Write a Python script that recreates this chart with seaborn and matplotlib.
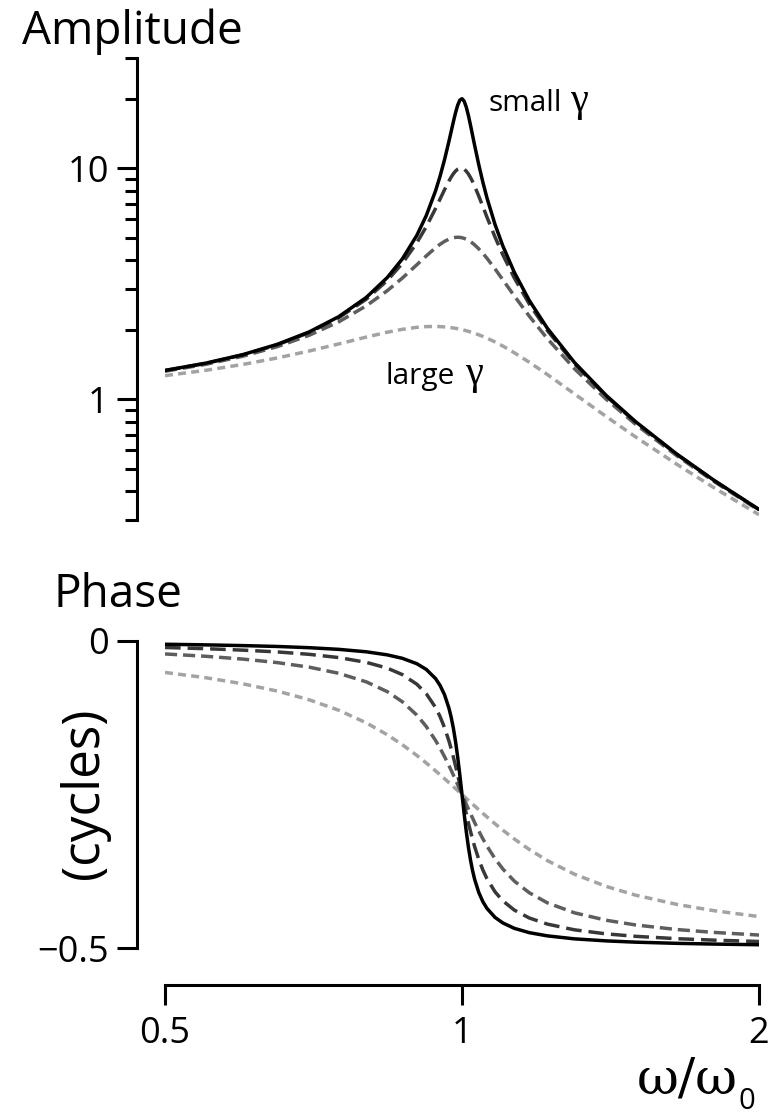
import matplotlib
matplotlib.use("Agg")
import matplotlib.pyplot as plt
import pandas as pd
import seaborn as sns
from matplotlib.ticker import FixedLocator, FixedFormatter, LogLocator, NullLocator, NullFormatter

# ---------------- data ----------------
omega = [0.5, 0.55, 0.6, 0.65, 0.7, 0.75, 0.8, 0.84, 0.87, 0.9, 0.92, 0.94, 0.95, 0.96,
         0.97, 0.975, 0.98, 0.985, 0.99, 0.995, 1.0, 1.005, 1.01, 1.015, 1.02, 1.025,
         1.03, 1.04, 1.05, 1.06, 1.08, 1.1, 1.13, 1.17, 1.22, 1.3, 1.4, 1.5, 1.65, 1.8, 2.0]

gamma_levels = ["0.05", "0.1", "0.2", "0.5"]

amp_g005 = [1.333, 1.433, 1.561, 1.729, 1.956, 2.277, 2.761, 3.363, 4.049, 5.121, 6.237,
            7.966, 9.220, 10.88, 13.08, 14.41, 15.87, 17.38, 18.74, 19.71, 20.0, 19.52,
            18.40, 16.93, 15.37, 13.88, 12.54, 10.34, 8.684, 7.436, 5.716, 4.607, 3.539,
            2.677, 2.032, 1.443, 1.039, 0.7986, 0.5799, 0.4461, 0.3332]
amp_g01 = [1.330, 1.429, 1.556, 1.721, 1.943, 2.253, 2.712, 3.266, 3.873, 4.757, 5.585,
           6.684, 7.346, 8.068, 8.804, 9.150, 9.461, 9.718, 9.903, 10.00, 10.00, 9.901,
           9.711, 9.443, 9.115, 8.747, 8.357, 7.565, 6.815, 6.141, 5.041, 4.218, 3.344,
           2.584, 1.987, 1.424, 1.031, 0.7943, 0.5779, 0.4450, 0.3326]
amp_g02 = [1.322, 1.416, 1.536, 1.689, 1.891, 2.162, 2.538, 2.950, 3.345, 3.821, 4.172,
           4.522, 4.683, 4.822, 4.931, 4.971, 5.001, 5.019, 5.025, 5.019, 5.000, 4.969,
           4.926, 4.872, 4.809, 4.736, 4.655, 4.476, 4.279, 4.075, 3.668, 3.288, 2.798,
           2.289, 1.832, 1.356, 1.000, 0.7779, 0.5702, 0.4408, 0.3304]
amp_g05 = [1.265, 1.334, 1.415, 1.509, 1.617, 1.735, 1.858, 1.950, 2.007, 2.047, 2.062,
           2.065, 2.062, 2.056, 2.047, 2.041, 2.034, 2.027, 2.019, 2.010, 2.000, 1.990,
           1.979, 1.967, 1.955, 1.942, 1.928, 1.900, 1.870, 1.838, 1.770, 1.699, 1.589,
           1.446, 1.280, 1.055, 0.8417, 0.6860, 0.5236, 0.4142, 0.3162]

phase_g005 = [-0.0053, -0.0063, -0.0075, -0.0089, -0.0109, -0.0136, -0.0176, -0.0226,
              -0.0282, -0.0370, -0.0463, -0.0611, -0.0722, -0.0874, -0.1094, -0.1240,
              -0.1418, -0.1635, -0.1892, -0.2185, -0.2500, -0.2813, -0.3103, -0.3355,
              -0.3566, -0.3740, -0.3883, -0.4097, -0.4247, -0.4355, -0.4501, -0.4592,
              -0.4680, -0.4750, -0.4802, -0.4851, -0.4884, -0.4905, -0.4924, -0.4936, -0.4947]
phase_g01 = [-0.0106, -0.0125, -0.0149, -0.0178, -0.0217, -0.0270, -0.0348, -0.0442,
             -0.0547, -0.0704, -0.0859, -0.1081, -0.1229, -0.1410, -0.1629, -0.1754,
             -0.1889, -0.2033, -0.2184, -0.2341, -0.2500, -0.2658, -0.2813, -0.2961,
             -0.3100, -0.3230, -0.3350, -0.3559, -0.3731, -0.3872, -0.4084, -0.4232,
             -0.4383, -0.4511, -0.4610, -0.4704, -0.4770, -0.4810, -0.4848, -0.4872, -0.4894]
phase_g02 = [-0.0211, -0.0249, -0.0295, -0.0352, -0.0426, -0.0526, -0.0666, -0.0825,
             -0.0989, -0.1207, -0.1393, -0.1618, -0.1745, -0.1883, -0.2029, -0.2105,
             -0.2183, -0.2261, -0.2341, -0.2420, -0.2500, -0.2579, -0.2658, -0.2735,
             -0.2811, -0.2885, -0.2958, -0.3095, -0.3223, -0.3340, -0.3545, -0.3713,
             -0.3911, -0.4100, -0.4263, -0.4427, -0.4548, -0.4625, -0.4699, -0.4746, -0.4789]
phase_g05 = [-0.0512, -0.0598, -0.0698, -0.0816, -0.0957, -0.1128, -0.1334, -0.1527,
             -0.1689, -0.1864, -0.1987, -0.2114, -0.2178, -0.2242, -0.2307, -0.2339,
             -0.2372, -0.2404, -0.2436, -0.2468, -0.2500, -0.2532, -0.2563, -0.2595,
             -0.2626, -0.2657, -0.2687, -0.2748, -0.2807, -0.2865, -0.2976, -0.3081,
             -0.3225, -0.3395, -0.3575, -0.3798, -0.3997, -0.4140, -0.4289, -0.4392, -0.4488]

amp_ticks = [1, 10]
amp_tick_labels = ["1", "10"]
phase_ticks = [0, -0.5]
phase_tick_labels = ["0", "\u22120.5"]
x_ticks = [0.5, 1, 2]
x_tick_labels = ["0.5", "1", "2"]

# ---------------- build tables ----------------
gamma_col = [g for g in gamma_levels for _ in omega]
amp_df = pd.DataFrame({"omega": omega * 4,
                       "value": amp_g005 + amp_g01 + amp_g02 + amp_g05,
                       "gamma": gamma_col})
phase_df = pd.DataFrame({"omega": omega * 4,
                         "value": phase_g005 + phase_g01 + phase_g02 + phase_g05,
                         "gamma": gamma_col})

# ---------------- style ----------------
sns.set_style("ticks")
plt.rcParams["font.family"] = ["Open Sans", "DejaVu Sans"]
plt.rcParams["axes.unicode_minus"] = True
for k in ("text.color", "axes.labelcolor", "xtick.color", "ytick.color",
          "axes.edgecolor", "xtick.labelcolor", "ytick.labelcolor"):
    plt.rcParams[k] = "black"

palette = {"0.05": "#000000", "0.1": "#383838", "0.2": "#5e5e5e", "0.5": "#a3a3a3"}
dashes = {"0.05": "", "0.1": (4.5, 2.0), "0.2": (3.5, 1.7), "0.5": (2.3, 1.5)}
draw_order = ["0.5", "0.2", "0.1", "0.05"]

W, H = 779, 1114
fig = plt.figure(figsize=(W / 100, H / 100), dpi=100)


def fx(px):
    return px / W


def fy(py):
    return 1 - py / H


ax1 = fig.add_axes([fx(165), fy(520), fx(759) - fx(165), fy(58) - fy(520)])
ax2 = fig.add_axes([fx(165), fy(948), fx(759) - fx(165), fy(641) - fy(948)])

LW = 2.5
for ax, df in ((ax1, amp_df), (ax2, phase_df)):
    sns.lineplot(data=df, x="omega", y="value", hue="gamma", style="gamma",
                 hue_order=draw_order, style_order=draw_order, palette=palette,
                 dashes=dashes, legend=False, ax=ax, linewidth=LW,
                 estimator=None, sort=False)
    ax.set_xscale("log")
    ax.set_xlim(0.5, 2)
    ax.set_xlabel("")
    ax.set_ylabel("")
    ax.spines["top"].set_visible(False)
    ax.spines["right"].set_visible(False)
    for s in ax.spines.values():
        s.set_linewidth(2.2)
        s.set_color("black")
    ax.spines["left"].set_position(("outward", 20))
    ax.tick_params(axis="both", which="major", length=14.5, width=2.2,
                   labelsize=26, direction="out", color="black", labelcolor="black")
    ax.tick_params(axis="y", which="major", pad=6)
    ax.tick_params(axis="both", which="minor", length=8.5, width=2.2,
                   direction="out", color="black")

# top panel (amplitude)
ax1.set_yscale("log")
ax1.set_ylim(0.3, 30)
ax1.yaxis.set_major_locator(FixedLocator(amp_ticks))
ax1.yaxis.set_major_formatter(FixedFormatter(amp_tick_labels))
ax1.yaxis.set_minor_locator(LogLocator(base=10, subs=[2, 3, 4, 5, 6, 7, 8, 9]))
ax1.yaxis.set_minor_formatter(NullFormatter())
ax1.spines["bottom"].set_visible(False)
ax1.tick_params(axis="x", which="both", bottom=False, labelbottom=False)

# bottom panel (phase)
ax2.set_ylim(-0.5, 0)
ax2.yaxis.set_major_locator(FixedLocator(phase_ticks))
ax2.yaxis.set_major_formatter(FixedFormatter(phase_tick_labels))
ax2.yaxis.set_minor_locator(NullLocator())
ax2.xaxis.set_major_locator(FixedLocator(x_ticks))
ax2.xaxis.set_major_formatter(FixedFormatter(x_tick_labels))
ax2.xaxis.set_minor_locator(NullLocator())
ax2.spines["bottom"].set_position(("outward", 26.5))
ax2.tick_params(axis="x", which="major", pad=8)

# texts
fig.text(fx(22), fy(44), "Amplitude", fontsize=33, ha="left", va="baseline")
fig.text(fx(53), fy(607), "Phase", fontsize=33, ha="left", va="baseline")
fig.text(fx(85), fy(793), "(cycles)", fontsize=37, rotation=90, ha="center", va="center")
fig.text(fx(488), fy(111), "small", fontsize=21.5, ha="left", va="baseline")
fig.text(fx(571), fy(111), "\u03b3", fontsize=29, family=["Liberation Serif", "DejaVu Serif"],
         ha="left", va="baseline")
fig.text(fx(385), fy(384), "large", fontsize=21.5, ha="left", va="baseline")
fig.text(fx(466), fy(384), "\u03b3", fontsize=29, family=["Liberation Serif", "DejaVu Serif"],
         ha="left", va="baseline")

t_omega = fig.text(fx(637), fy(1094), "\u03c9/\u03c9", fontsize=37,
                   family=["DejaVu Serif", "Liberation Serif"], ha="left", va="baseline")
fig.canvas.draw()
bb = t_omega.get_window_extent()
fig.text((bb.x1 + 1) / W, fy(1109), "0", fontsize=21, ha="left", va="baseline")

fig.savefig("out.png", dpi=100)
